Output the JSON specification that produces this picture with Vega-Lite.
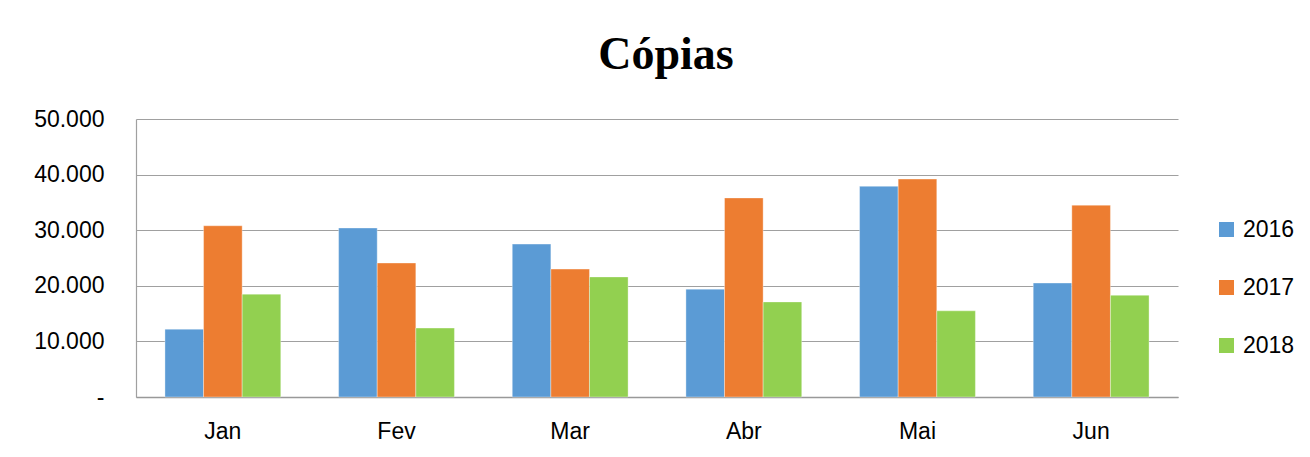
{
  "$schema": "https://vega.github.io/schema/vega-lite/v6.json",
  "width": 1042,
  "height": 278,
  "autosize": {"type": "none"},
  "padding": {"left": 136, "top": 119, "right": 132, "bottom": 60},
  "background": "white",
  "title": {
    "text": "Cópias",
    "font": "Liberation Serif",
    "fontSize": 46,
    "fontWeight": "bold",
    "color": "black",
    "anchor": "middle",
    "frame": "group",
    "offset": 29,
    "dx": 9
  },
  "data": {
    "values": [
      {"mes": "Jan", "ano": "2016", "copias": 12200},
      {"mes": "Jan", "ano": "2017", "copias": 30800},
      {"mes": "Jan", "ano": "2018", "copias": 18500},
      {"mes": "Fev", "ano": "2016", "copias": 30400},
      {"mes": "Fev", "ano": "2017", "copias": 24100},
      {"mes": "Fev", "ano": "2018", "copias": 12400},
      {"mes": "Mar", "ano": "2016", "copias": 27500},
      {"mes": "Mar", "ano": "2017", "copias": 23000},
      {"mes": "Mar", "ano": "2018", "copias": 21600},
      {"mes": "Abr", "ano": "2016", "copias": 19400},
      {"mes": "Abr", "ano": "2017", "copias": 35800},
      {"mes": "Abr", "ano": "2018", "copias": 17100},
      {"mes": "Mai", "ano": "2016", "copias": 37900},
      {"mes": "Mai", "ano": "2017", "copias": 39200},
      {"mes": "Mai", "ano": "2018", "copias": 15500},
      {"mes": "Jun", "ano": "2016", "copias": 20500},
      {"mes": "Jun", "ano": "2017", "copias": 34500},
      {"mes": "Jun", "ano": "2018", "copias": 18300}
    ]
  },
  "mark": {"type": "bar", "stroke": "white", "strokeOpacity": 0.5, "strokeWidth": 0.7},
  "encoding": {
    "x": {
      "field": "mes",
      "type": "nominal",
      "sort": ["Jan", "Fev", "Mar", "Abr", "Mai", "Jun"],
      "scale": {"paddingInner": 0.333, "paddingOuter": 0.1667},
      "axis": {
        "title": null,
        "labelAngle": 0,
        "ticks": false,
        "domainColor": "#999999",
        "domainWidth": 1.5,
        "labelFont": "Liberation Sans",
        "labelFontSize": 23,
        "labelColor": "black",
        "labelPadding": 23
      }
    },
    "xOffset": {
      "field": "ano",
      "type": "nominal",
      "scale": {"paddingInner": 0, "paddingOuter": 0}
    },
    "y": {
      "field": "copias",
      "type": "quantitative",
      "scale": {"domain": [0, 50000], "nice": false},
      "axis": {
        "title": null,
        "values": [0, 10000, 20000, 30000, 40000, 50000],
        "labelExpr": "datum.value == 0 ? '-' : replace(format(datum.value, ','), ',', '.')",
        "ticks": false,
        "grid": true,
        "gridColor": "#A0A0A0",
        "gridWidth": 1.2,
        "domainColor": "#A0A0A0",
        "domainWidth": 1.2,
        "labelFont": "Liberation Sans",
        "labelFontSize": 23,
        "labelColor": "black",
        "labelPadding": 32,
        "labelOverlap": false
      }
    },
    "color": {
      "field": "ano",
      "type": "nominal",
      "scale": {"domain": ["2016", "2017", "2018"], "range": ["#5B9BD5", "#ED7D31", "#92D050"]},
      "legend": {
        "title": null,
        "orient": "none",
        "legendX": 1079,
        "legendY": 99,
        "symbolType": "square",
        "symbolSize": 225,
        "symbolStrokeWidth": 0,
        "labelFont": "Liberation Sans",
        "labelFontSize": 23,
        "labelColor": "black",
        "labelOffset": 5,
        "rowPadding": 34
      }
    }
  },
  "config": {
    "view": {"stroke": null}
  }
}
